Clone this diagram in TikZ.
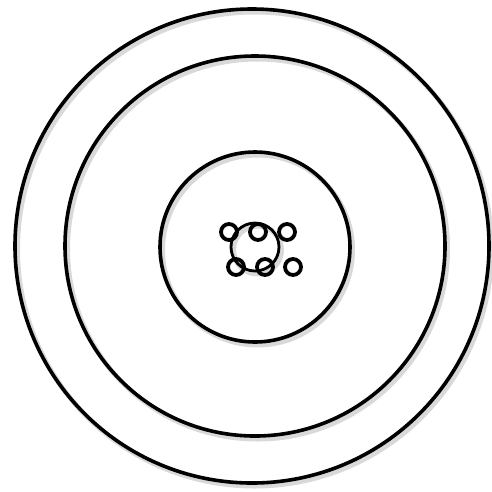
\documentclass[tikz,border=0pt]{standalone}
\usepackage{tikz}
\usetikzlibrary{positioning}

\begin{document}
\begin{tikzpicture}[x=1pt, y=-1pt,
			ring/.style={circle, draw, line width=3.6pt, inner sep=0pt, outer sep=0pt},
			core/.style={ring, line width=2.8pt},
			dot/.style={circle, draw, line width=3.8pt, inner sep=0pt, outer sep=0pt, minimum size=16pt},
			halo/.style={draw=black!15, line width=5pt}]
			\useasboundingbox (0,0) rectangle (492,491);
			% soft shadows behind the rings
			\draw[halo] (254.5,249) circle (237pt);
			\draw[halo] (257.5,249) circle (190pt);
			\draw[halo] (257.5,250) circle (95pt);
			\draw[halo] (257.5,250) circle (24pt);
			\node[ring, minimum size=474pt] (outer) at (252,246) {};
			\node[ring, minimum size=380pt] (middle) at (255,246) {};
			\node[ring, minimum size=190pt] (inner) at (255,247) {};
			\node[core, minimum size=48pt] (nucleus) at (255,247) {};
			% top row
			\node[dot] (t1) at (229,232) {};
			\node[dot, right=13pt of t1] (t2) {};
			\node[dot, right=13pt of t2] (t3) {};
			% bottom row
			\node[dot] (b1) at (236,267) {};
			\node[dot, right=13pt of b1] (b2) {};
			\node[dot, right=12pt of b2] (b3) {};
		\end{tikzpicture}
\end{document}
